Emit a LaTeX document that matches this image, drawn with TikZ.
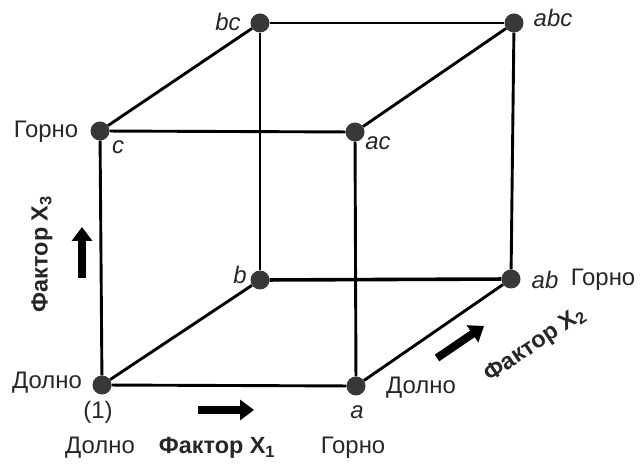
\documentclass[tikz,border=0pt]{standalone}
\usepackage{fontspec}
\setmainfont{Liberation Sans}
\usetikzlibrary{positioning,arrows.meta}

\tikzset{
  vertex/.style={circle,fill=black!78,inner sep=0pt,minimum size=19bp},
  edge/.style={line width=2.9bp},
  lbl/.style={inner sep=0pt,text=black!85},
  corner/.style={lbl,font=\fontsize{24}{28}\selectfont\itshape},
  level/.style={lbl},
  factor/.style={lbl,font=\fontsize{23.5}{28}\selectfont\bfseries},
  blockarrow/.style={line width=8bp,-{Triangle[length=14bp,width=20bp]}}
}

\begin{document}
\begin{tikzpicture}[x=1bp,y=-1bp,every node/.style={font=\fontsize{24}{28}\selectfont}]
\useasboundingbox (0,0) rectangle (642,465);

% cube corners
\node[vertex] (v1) at (102,385) {};
\node[vertex] (a) at (356,386) {};
\node[vertex] (b) at (260,280) {};
\node[vertex] (ab) at (511,279) {};
\node[vertex] (c) at (100,131) {};
\node[vertex] (ac) at (355,132) {};
\node[vertex] (bc) at (260,23) {};
\node[vertex] (abc) at (514,23) {};

% edges
\draw[edge] (v1) -- (a);
\draw[edge] (v1) -- (b);
\draw[edge] (v1) -- (c);
\draw[edge] (a) -- (ab);
\draw[edge] (a) -- (ac);
\draw[edge,line width=3.6bp] (b) -- (ab);
\draw[edge] (b) -- (bc);
\draw[edge] (ab) -- (abc);
\draw[edge] (c) -- (ac);
\draw[edge] (c) -- (bc);
\draw[edge] (ac) -- (abc);
\draw[edge] (bc) -- (abc);

% treatment labels
\node[lbl] (l1) at (98,412) {(1)};
\node[corner] (la) at (357,412) {a};
\node[corner] (lb) at (240,275) {b};
\node[corner] (lab) at (545,280) {ab};
\node[corner] (lc) at (118,147) {c};
\node[corner] (lac) at (378,143) {ac};
\node[corner] (lbc) at (228,22) {bc};
\node[corner] (labc) at (553,18) {abc};

% levels
\node[level] (lo3) at (47,383) {Долно};
\node[level] (hi3) at (46,132) {Горно};
\node[level] (lo1) at (100,448) {Долно};
\node[level] (hi1) at (353,448) {Горно};
\node[level] (lo2) at (421,388) {Долно};
\node[level] (hi2) at (603,280) {Горно};

% factors
\node[factor] (f1) at (217,448) {Фактор X\textsubscript{1}};
\node[factor,rotate=90] (f3) at (42,254) {Фактор X\textsubscript{3}};
\node[factor,rotate=34] (f2) at (535,345) {Фактор X\textsubscript{2}};

% direction arrows
\coordinate (s1) at (198,410);
\coordinate (e1) at (254,410);
\coordinate (s3) at (82,278);
\coordinate (e3) at (82,227);
\coordinate (s2) at (437,358);
\coordinate (e2) at (484,326);
\draw[blockarrow] (s1) -- (e1);
\draw[blockarrow] (s3) -- (e3);
\draw[blockarrow] (s2) -- (e2);
\end{tikzpicture}
\end{document}
